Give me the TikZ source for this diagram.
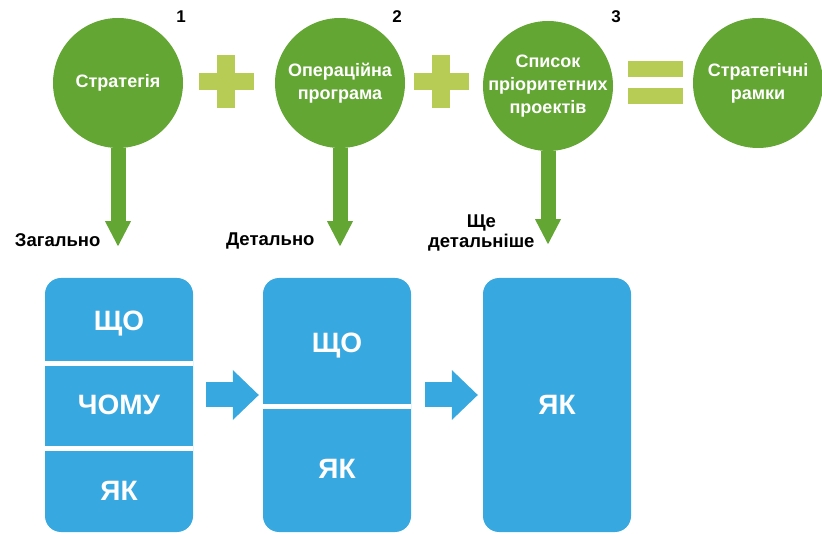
\documentclass[tikz,border=0pt]{standalone}
\usepackage{fontspec}
\setmainfont{Liberation Sans}
\usetikzlibrary{positioning,arrows.meta}
\definecolor{leaf}{RGB}{99,166,51}
\definecolor{lime}{RGB}{182,204,84}
\definecolor{sky}{RGB}{56,168,224}

\begin{document}
\begin{tikzpicture}[x=1pt, y=1pt, node distance=220pt,
    krug/.style={circle, fill=leaf, minimum size=130pt, inner sep=0pt, text=white,
        font=\fontsize{18}{23}\selectfont\bfseries, align=center},
    nomer/.style={font=\fontsize{17}{20}\selectfont\bfseries},
    znak/.style={fill=lime, inner sep=0pt},
    mitka/.style={font=\fontsize{18.5}{20}\selectfont\bfseries, align=center},
    blok/.style={rectangle, rounded corners=16pt, fill=sky, minimum width=148pt, minimum height=254pt},
    slovo/.style={text=white, font=\fontsize{28}{30}\selectfont\bfseries, text height=20pt, text depth=0pt},
    rozdil/.style={white, line width=5pt},
    zelena/.style={-{Triangle[width=26pt, length=25pt, line width=0pt]}, line width=15pt, leaf},
    synja/.style={-{Triangle[width=50pt, length=26pt, line width=0pt]}, line width=25pt, sky}]
\useasboundingbox (0,0) rectangle (822,533);

% Кола
\node[krug] (strat) at (118,450) {Стратегія};
\node[krug, right of=strat, node distance=222pt] (oper) {Операційна\\програма};
\node[krug, right of=oper, node distance=208pt, yshift=-3pt, inner sep=-6pt] (spysok) {Список\\пріоритетних\\проектів};
\node[krug, right of=spysok, node distance=210pt, yshift=3pt] (ramky) {Стратегічні\\рамки};

% Номери
\node[nomer] (n1) at ([shift={(17,20)}]strat.north east) {1};
\node[nomer] (n2) at ([shift={(11,20)}]oper.north east) {2};
\node[nomer] (n3) at ([shift={(22,23)}]spysok.north east) {3};

% Плюси і дорівнює
\node[znak, minimum width=55pt, minimum height=17pt] (plus1h) at (226,451) {};
\node[znak, minimum width=18pt, minimum height=53pt] (plus1v) at (226,451) {};
\node[znak, minimum width=55pt, minimum height=17pt] (plus2h) at (441,451) {};
\node[znak, minimum width=18pt, minimum height=53pt] (plus2v) at (441,451) {};
\node[znak, minimum width=55pt, minimum height=16pt] (rivno1) at (655,464) {};
\node[znak, minimum width=55pt, minimum height=16pt] (rivno2) at (655,437) {};

% Стрілки вниз
\coordinate[below=98pt of strat] (k1);
\coordinate[below=98pt of oper] (k2);
\coordinate[below=93pt of spysok] (k3);
\draw[zelena] (strat) -- (k1);
\draw[zelena] (oper) -- (k2);
\draw[zelena] (spysok) -- (k3);

% Підписи
\node[mitka, left=14pt of k1, yshift=6pt] (zag) {Загально};
\node[mitka, left=22pt of k2, yshift=5pt] (det) {Детально};
\node[mitka, left=10pt of k3, yshift=11pt] (bil) {Ще\\детальніше};

% Блоки
\node[blok] (b1) at (119,128) {};
\node[blok, right of=b1, node distance=218pt] (b2) {};
\node[blok, right of=b2, node distance=220pt] (b3) {};

\draw[rozdil] ([yshift=41pt]b1.west) -- ([yshift=41pt]b1.east);
\draw[rozdil] ([yshift=-44pt]b1.west) -- ([yshift=-44pt]b1.east);
\draw[rozdil] ([yshift=-2pt]b2.west) -- ([yshift=-2pt]b2.east);

\node[slovo] (b1a) at ([yshift=84pt]b1) {ЩО};
\node[slovo] (b1b) at (b1) {ЧОМУ};
\node[slovo] (b1c) at ([yshift=-85pt]b1) {ЯК};
\node[slovo] (b2a) at ([yshift=62pt]b2) {ЩО};
\node[slovo] (b2b) at ([yshift=-64pt]b2) {ЯК};
\node[slovo] (b3a) at (b3) {ЯК};

% Стрілки між блоками
\draw[synja] ([xshift=13pt, yshift=10pt]b1.east) -- ([xshift=-4pt, yshift=10pt]b2.west);
\draw[synja] ([xshift=14pt, yshift=10pt]b2.east) -- ([xshift=-5pt, yshift=10pt]b3.west);
\end{tikzpicture}
\end{document}
